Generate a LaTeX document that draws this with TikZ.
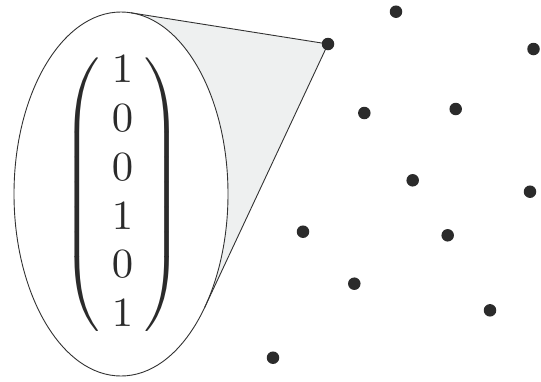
\documentclass[tikz,border=0pt]{standalone}
\usepackage{amsmath}
\usepackage{graphicx}
\usetikzlibrary{shapes.geometric}
\definecolor{dotc}{RGB}{43,43,43}
\definecolor{wedgec}{RGB}{238,240,240}
\definecolor{linec}{RGB}{50,50,50}
\begin{document}
\begin{tikzpicture}[x=1pt,y=-1pt,
  dot/.style={circle,fill=dotc,inner sep=0pt,minimum size=12.5pt},
  outline/.style={draw=linec,line width=0.9pt},
  lens/.style={ellipse,draw=linec,line width=0.9pt,fill=white,minimum width=214pt,minimum height=364pt,inner sep=0pt},
  vec/.style={inner sep=0pt,text=dotc}]
\useasboundingbox (0,0) rectangle (541,381);
% dot positions
\coordinate (p1) at (396,11.7);
\coordinate (p2) at (328,44);
\coordinate (p3) at (533.5,49);
\coordinate (p4) at (364.3,113);
\coordinate (p5) at (455.7,109);
\coordinate (p6) at (412.7,180.3);
\coordinate (p7) at (530,191.7);
\coordinate (p8) at (303,231.7);
\coordinate (p9) at (447.7,235.3);
\coordinate (p10) at (354.3,283.7);
\coordinate (p11) at (490,310.3);
\coordinate (p12) at (273,357.7);
% tangent points on the ellipse
\coordinate (t1) at (130.9,12.8);
\coordinate (t2) at (204.7,307.4);
% wedge
\fill[wedgec] (p2) -- (t1) -- (t2) -- cycle;
\node[lens] (E) at (121,194) {};
\draw[outline] (t1) -- (p2.center) -- (t2);
% vector
\node[vec] (M) at (122.5,195) {\scalebox{4.27}[4.15]{$\renewcommand\arraystretch{0.978}\left(\begin{array}{@{\hspace{2.7pt}}c@{\hspace{2.7pt}}}1\\0\\0\\1\\0\\1\end{array}\right)$}};
% dots
\foreach \i in {1,...,12} \node[dot] (d\i) at (p\i) {};
\end{tikzpicture}
\end{document}
